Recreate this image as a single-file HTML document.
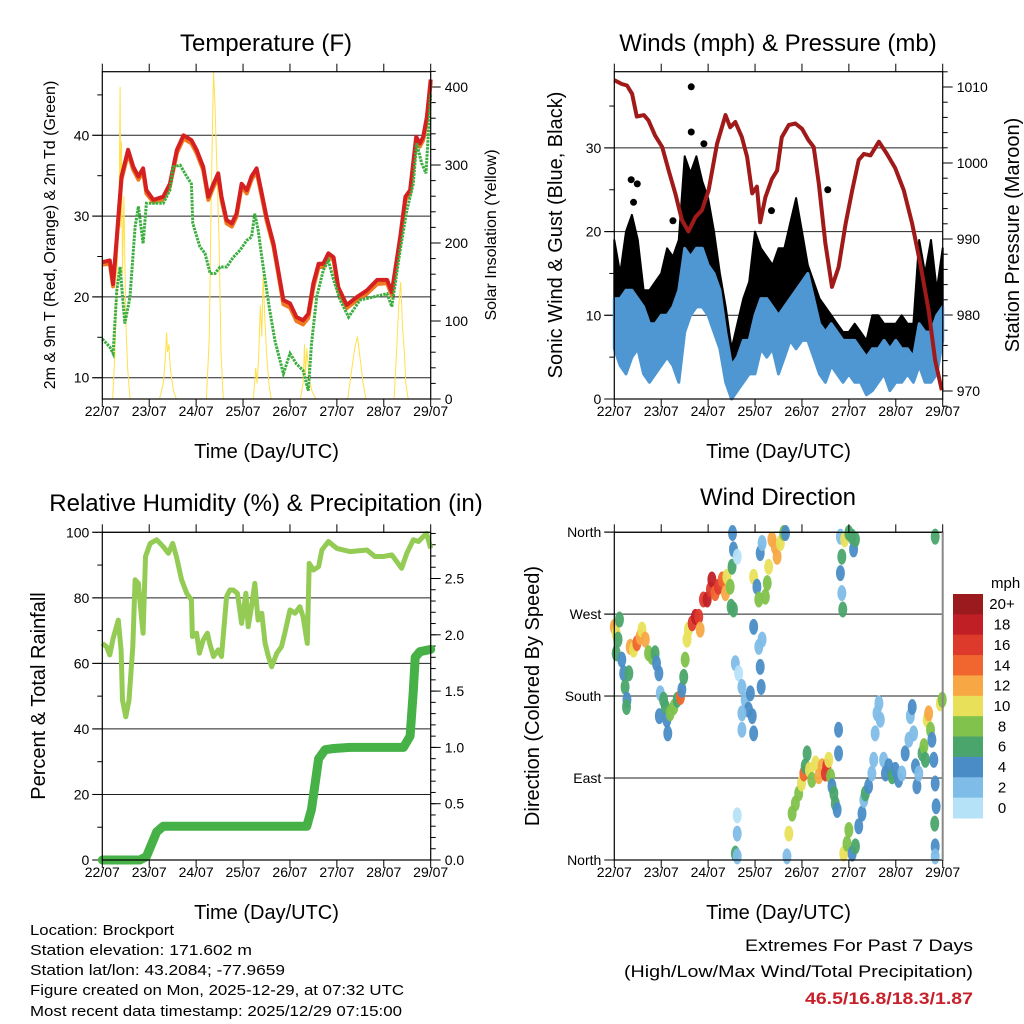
<!DOCTYPE html>
<html><head><meta charset="utf-8">
<style>
html,body{margin:0;padding:0;background:#fff;}
svg{display:block;font-family:"Liberation Sans",sans-serif;}
</style></head>
<body>
<svg id="fig" xmlns="http://www.w3.org/2000/svg" width="1024" height="1024" viewBox="0 0 1024 1024"></svg>
<script>
// ---------- Temperature panel data ----------
const tDays = [0,0.16,0.23,0.31,0.41,0.55,0.66,0.77,0.87,0.94,1.09,1.30,1.44,1.59,1.73,1.90,2.01,2.15,2.26,2.37,2.47,2.54,2.65,2.76,2.86,2.97,3.08,3.18,3.29,3.40,3.50,3.65,3.75,3.86,4.00,4.14,4.28,4.39,4.50,4.61,4.71,4.82,4.93,5.03,5.21,5.43,5.64,5.86,6.07,6.17,6.35,6.46,6.56,6.69,6.77,6.84,6.92,7.0];
const tempRed = [24.3,24.5,21.6,27.4,34.9,38.2,36.1,34.9,35.9,33.2,32,32.4,34,38.2,40,39.4,38.2,36.1,32.4,34,35.3,32.4,29.5,29.1,30.3,34,33.2,34.9,35.9,32.8,29.9,26.6,23.3,19.6,19.2,17.5,17.1,17.9,21.7,24.1,24.1,25.4,24.9,21.2,19,20,20.8,22.1,22.1,20.6,27.4,32.4,33.2,39.8,39,39.8,42.3,46.9];
const tempOrange = [24.0,24.1,21.3,27.0,34.5,37.8,35.7,34.5,35.5,32.8,31.7,32.1,33.7,37.8,39.6,39.0,37.8,35.7,32.0,33.6,34.9,32.0,29.1,28.7,29.9,33.6,32.8,34.5,35.5,32.4,29.5,26.2,22.9,19.1,18.7,17.0,16.6,17.4,21.2,23.7,23.7,25.0,24.5,20.8,18.6,19.6,20.4,21.6,21.7,20.2,27.0,32.0,32.8,39.4,38.6,39.4,41.9,46.5];
const tdDays = [0,0.16,0.23,0.31,0.38,0.48,0.59,0.70,0.77,0.87,0.94,1.09,1.30,1.44,1.51,1.66,1.80,1.90,1.93,2.08,2.19,2.30,2.40,2.51,2.65,2.79,2.94,3.08,3.18,3.25,3.32,3.43,3.57,3.68,3.86,4.00,4.14,4.28,4.39,4.46,4.57,4.71,4.82,4.93,5.07,5.25,5.49,5.78,6.07,6.17,6.35,6.49,6.63,6.70,6.81,6.90,7.0];
const tempDew = [14.8,13.8,13,20.8,23.7,16.7,20,28.7,31.2,26.6,31.6,31.6,31.6,33.2,36.1,36.3,34.9,34,29.1,26.2,25.4,22.9,22.9,23.7,23.7,24.9,25.8,27,27.4,30.3,28.3,23.7,18.3,14.6,10.5,13,11.7,10.9,8.4,14.2,20,23.3,24.5,22.1,19.6,17.5,19.6,20,20.4,18.8,25.8,30.7,34,39,36.5,35.3,45.2];
const solarDays = [0,0.22,0.27,0.31,0.36,0.38,0.395,0.41,0.43,0.46,0.5,0.54,0.59,1.22,1.3,1.34,1.37,1.39,1.42,1.45,1.48,1.52,1.58,2.22,2.28,2.32,2.37,2.40,2.44,2.49,2.53,2.58,3.22,3.27,3.30,3.33,3.37,3.40,3.43,3.46,3.50,3.55,3.6,4.22,4.28,4.31,4.33,4.36,4.39,4.43,4.47,4.55,5.23,5.3,5.38,5.44,5.50,5.56,5.62,6.22,6.27,6.32,6.36,6.40,6.44,6.47,6.52,7.0];
const solarVals = [0,0,60,150,260,400,220,330,160,260,100,40,0,0,20,50,85,60,70,40,25,10,0,0,80,250,420,380,300,200,60,0,0,40,20,50,120,80,160,110,60,20,0,0,20,70,30,65,40,20,10,0,0,30,65,80,50,20,0,0,60,120,150,90,60,20,0,0];
const tempTicks = [10,20,30,40];
const solarTicks = [0,100,200,300,400];
const dayLabels = ["22/07","23/07","24/07","25/07","26/07","27/07","28/07","29/07"];
// ---------- Wind panel data ----------
const windDays = [0,0.125,0.25,0.375,0.5,0.625,0.75,0.875,1,1.125,1.25,1.375,1.5,1.625,1.75,1.875,2,2.125,2.25,2.375,2.5,2.625,2.75,2.875,3,3.125,3.25,3.375,3.5,3.625,3.75,3.875,4,4.125,4.25,4.375,4.5,4.625,4.75,4.875,5,5.125,5.25,5.375,5.5,5.625,5.75,5.875,6,6.125,6.25,6.375,6.5,6.625,6.75,6.875,7];
const windLow = [6,4,3,5,6,3,2,3,4,5,4,2,8,10,11,11,10,8,6,2,0,1,2,3,3,6,5,6,3,5,7,6,7,7,5,3,2,4,3,2,3,2,2,0.5,1,2,3,1,2,2,3,2,4,2,2,3,7];
const windHigh = [12,12,13,13,12,11,9,9,10,10,11,13,18,17,18,18,16,15,13,8,4,5,7,7,10,12,12,11,10,11,12,13,14,15,12,9,8,9,8,7,7,7,6,5,6,6,7,6,7,6,6,5,9,8,8,10,11];
const gustHigh = [19,15,20,22,19,13,13,14,15,18,17,19,29,27,29,26,24,20,15,11,6,9,12,14,20,18,17,16,18,18,21,24,20,16,14,12,11,10,9,8,8,9,8,7,10,10,9,9,9,10,9,9,19,15,19,13,18];
const gustOutDays = [1.64,1.64,0.36,0.49,0.41,1.91,3.35,4.55,1.25];
const gustOutVals = [37.3,31.9,26.2,25.7,23.5,30.5,22.5,25,21.3];
const presDays = [0,0.16,0.27,0.38,0.48,0.63,0.73,0.87,1.02,1.16,1.30,1.44,1.58,1.73,1.87,2.01,2.19,2.37,2.47,2.58,2.72,2.83,2.94,3.04,3.11,3.22,3.36,3.47,3.57,3.72,3.86,4.00,4.14,4.25,4.36,4.50,4.64,4.78,4.93,5.07,5.21,5.32,5.46,5.64,5.81,5.99,6.17,6.35,6.52,6.70,6.84,6.98];
const presVals = [1010.9,1010.4,1010.2,1009.1,1006.1,1006.3,1005.6,1003.6,1002.1,999,996,992.5,991,992.9,993.8,996.4,1002.5,1006.3,1004.7,1005.4,1003.4,1000.8,996,996.9,992.2,995.5,997.9,999,1003.4,1005,1005.2,1004.5,1003,1002.1,997.3,989.4,983.7,986.3,992,996.4,1000.4,1001.2,1001,1002.8,1001.2,999.3,996.4,992,986.8,980.6,974,970.1];
const windTicks = [0,10,20,30];
const presTicks = [970,980,990,1000,1010];
// ---------- RH / precip data ----------
const rhDays = [0,0.09,0.16,0.23,0.34,0.40,0.43,0.50,0.57,0.65,0.70,0.77,0.82,0.87,0.92,1.02,1.16,1.30,1.41,1.50,1.58,1.69,1.80,1.90,1.92,2.01,2.07,2.15,2.24,2.29,2.37,2.47,2.54,2.65,2.72,2.79,2.88,2.97,3.06,3.11,3.18,3.25,3.32,3.40,3.47,3.54,3.61,3.72,3.82,3.89,4.00,4.11,4.21,4.28,4.37,4.41,4.50,4.61,4.68,4.82,5.00,5.28,5.64,5.81,5.99,6.17,6.28,6.38,6.49,6.63,6.74,6.84,6.91,7.0];
const rhVals = [66.1,65.1,62.6,67.6,73.2,64,48.8,43.7,48.8,65.1,85.5,84.4,76.3,69.2,92.6,96.6,97.7,95.6,93.6,96.6,92.6,85.5,81.4,79.3,68.2,69.2,63.1,67.1,69.2,66.1,62.1,64.1,62.1,80.4,82.4,82.4,81.4,72.2,81.4,71.2,77.3,84.4,73.2,75.3,66.1,62.1,59,63.1,65.1,69.2,76.3,75.3,77.3,74.2,66.1,90.5,88.5,89.5,94.6,97.2,95.1,94.1,94.6,92.6,92.6,93.1,91,89,93.6,97.7,97.2,98.7,99.7,95.1];
const rainDays = [0,0.80,0.94,1.16,1.30,4.36,4.46,4.61,4.75,4.93,5.28,6.42,6.56,6.63,6.67,6.77,7.0];
const rainVals = [0,0,0.03,0.25,0.3,0.3,0.45,0.9,0.98,0.99,1.0,1.0,1.1,1.5,1.8,1.85,1.87];
const rhTicks = [0,20,40,60,80,100];
const rainTicks = ["0.0","0.5","1.0","1.5","2.0","2.5"];
// ---------- Wind direction data ----------
const dirDays = [0.00,0.04,0.08,0.04,0.11,0.16,0.20,0.23,0.27,0.26,0.31,0.34,0.41,0.48,0.55,0.59,0.66,0.73,0.80,0.87,0.90,0.95,0.98,0.96,1.05,1.09,1.12,1.14,1.19,1.27,1.34,1.41,1.44,1.48,1.51,1.55,1.58,1.66,1.73,1.80,1.83,1.90,1.98,2.05,2.08,2.15,2.22,2.30,2.37,2.40,2.47,2.51,2.49,2.54,2.52,2.54,2.62,2.58,2.65,2.72,2.79,2.86,2.90,2.72,2.94,2.72,2.97,2.62,2.62,2.58,2.62,2.97,3.04,3.08,3.11,3.15,3.26,3.22,3.29,3.36,3.43,3.47,3.54,3.61,3.65,2.97,3.08,3.11,3.15,3.13,3.68,3.72,3.79,3.86,3.93,3.99,4.04,4.07,4.11,4.16,4.21,4.29,4.36,4.43,4.50,4.53,4.57,4.61,4.64,4.68,4.71,4.75,4.78,4.78,4.82,4.85,4.82,4.85,4.87,4.91,5.00,5.07,5.10,5.14,4.89,4.96,5.00,5.07,5.14,5.21,5.28,5.32,5.35,5.42,5.49,5.53,5.56,5.60,5.64,5.67,5.74,5.78,5.85,5.92,5.99,6.06,6.13,6.20,6.28,6.31,6.35,6.38,6.42,6.45,6.49,6.56,6.60,6.63,6.67,6.70,6.74,6.77,6.81,6.84,6.86,6.83,6.84,6.84,6.95,6.99,6.84];
const dirVals = [256,249,242,227,264,220,205,190,176,168,205,234,231,238,245,253,242,227,223,227,216,205,183,158,176,168,154,139,161,168,176,179,187,201,220,242,253,260,267,267,253,286,286,297,308,293,300,308,293,311,300,322,278,275,359,341,333,216,205,190,176,165,183,161,158,143,139,49,29,7,4,311,300,286,337,348,304,289,322,352,344,333,348,359,359,256,234,212,242,190,4,29,51,62,73,84,95,103,117,99,88,106,92,103,95,103,110,92,81,73,62,55,117,143,355,333,315,293,275,352,359,355,341,352,7,18,33,7,15,37,51,66,73,81,95,110,139,161,172,154,110,95,103,92,99,88,95,117,132,158,168,139,103,81,95,117,125,110,154,161,143,132,110,84,59,40,15,4,172,176,355];
const dirSpeed = [12,11,7,6,6,5,4,6,5,6,6,12,11,14,12,11,12,8,8,6,5,4,3,4,6,6,4,4,8,8,7,14,4,6,8,10,10,16,18,16,13,16,18,16,18,15,16,14,12,10,8,7,6,6,5,4,1,2,1,2,3,4,5,2,4,3,4,1,3,6,3,10,4,8,4,3,8,8,11,12,13,12,11,8,5,4,3,4,3,4,2,11,8,8,8,11,14,6,6,10,8,11,12,13,16,17,10,8,5,6,6,4,4,4,3,6,4,3,6,10,7,6,4,6,11,8,8,4,6,4,4,3,6,4,2,3,3,2,3,2,3,5,4,6,4,4,3,4,3,2,4,3,5,4,3,6,8,6,10,12,8,5,4,4,4,6,4,3,10,8,6];
const dirTickLabels = ["North","East","South","West","North"];
const speedBinLabels = ["0","2","4","6","8","10","12","14","16","18","20+"];
const speedColors = ["#b6e2f7","#7fbde8","#4a8dc6","#4aa56c","#80c24b","#e9e05a","#f7a845","#f0662e","#de3a2c","#c11f26","#9b1a1e"];

// ---------- helpers ----------
const NS = "http://www.w3.org/2000/svg";
const svg = document.getElementById("fig");
function mk(tag, attrs, parent) {
  const el = document.createElementNS(NS, tag);
  for (const k in attrs) el.setAttribute(k, attrs[k]);
  (parent || svg).appendChild(el);
  return el;
}
function txt(s, attrs, parent) {
  const el = mk("text", attrs, parent);
  el.textContent = s;
  return el;
}
function panel(x0, x1, y0, y1) {
  return {x0:x0, x1:x1, y0:y0, y1:y1, xd: d => x0 + d * (x1 - x0) / 7};
}
const P1 = panel(102.3, 430.7, 71.7, 399);
const P2 = panel(614.3, 942.7, 71.7, 399);
const P3 = panel(102.3, 430.7, 532.3, 860);
const P4 = panel(614.3, 942.7, 532.3, 860);
const yT = v => 377.7 - (v - 10) * 8.08;
const yS = v => 399 - v * 0.78;
const yW = v => 399 - v * 8.37;
const yP = v => 391 - (v - 970) * 7.6;
const yRH = v => 860 - v * 3.277;
const yPr = v => 860 - v * 112.6;
const yD = v => 860 - v * 0.9108;

function linePath(days, vals, xf, yf) {
  return days.map((d, i) => (i ? "L" : "M") + xf(days[i]).toFixed(1) + " " + yf(vals[i]).toFixed(1)).join(" ");
}
function drawBox(P, g) {
  const r = mk("rect", {x:P.x0, y:P.y0, width:P.x1-P.x0, height:P.y1-P.y0, fill:"none", stroke:"#000", "stroke-width":1.2}, g);
  
  
}
function drawXAxis(P, g) {
  for (let i = 0; i < 8; i++) {
    const x = P.xd(i);
    const t1 = mk("line", {x1:x, x2:x, y1:P.y0, y2:P.y0-8, stroke:"#000", "stroke-width":1}, g);
    
    
    const t2 = mk("line", {x1:x, x2:x, y1:P.y1, y2:P.y1+8, stroke:"#000", "stroke-width":1}, g);
    
    
    const lb = txt(dayLabels[i], {x:x, y:P.y1+17, "font-size":14, "text-anchor":"middle"}, g);
    
    
  }
  const tt = txt("Time (Day/UTC)", {x:(P.x0+P.x1)/2, y:P.y1+59, "font-size":20, "text-anchor":"middle"}, g);
  
  
}
function leftTicks(P, g, vals, labels, yf, minors, grid) {
  vals.forEach((v, i) => {
    const y = yf(v);
    if (grid) {
      const gl = mk("line", {x1:P.x0-10, x2:P.x1, y1:y, y2:y, stroke:"#222", "stroke-width":1}, g);
      
      
    }
    const tk = mk("line", {x1:P.x0-10, x2:P.x0, y1:y, y2:y, stroke:"#000"}, g);
    
    
    const lb = txt(labels[i], {x:P.x0-13, y:y+5, "font-size":14, "text-anchor":"end"}, g);
    
    
  });
  (minors || []).forEach(v => {
    const y = yf(v);
    const m = mk("line", {x1:P.x0-5, x2:P.x0, y1:y, y2:y, stroke:"#000"}, g);
    
    
  });
}
function rightTicks(P, g, vals, labels, yf, minors) {
  vals.forEach((v, i) => {
    const y = yf(v);
    const tk = mk("line", {x1:P.x1, x2:P.x1+10, y1:y, y2:y, stroke:"#000"}, g);
    
    
    const lb = txt(labels[i], {x:P.x1+14, y:y+5, "font-size":14}, g);
    
    
  });
  (minors || []).forEach(v => {
    const y = yf(v);
    const m = mk("line", {x1:P.x1, x2:P.x1+5, y1:y, y2:y, stroke:"#000"}, g);
    
    
  });
}
function vTitle(s, x, y, size, g) {
  const t = txt(s, {x:x, y:y, "font-size":size, "text-anchor":"middle", transform:"rotate(-90 "+x+" "+y+")"}, g);
  return t;
}
function range(a, b, s) { const r = []; for (let v = a; v <= b + 1e-9; v += s) r.push(+v.toFixed(3)); return r; }

// ================= Panel 1: Temperature =================
const g1 = mk("g", {});


const ti1 = txt("Temperature (F)", {x:266, y:51, "font-size":24, "text-anchor":"middle"}, g1);


leftTicks(P1, g1, tempTicks, tempTicks.map(String), yT, [15,25,35,45], true);
rightTicks(P1, g1, solarTicks, solarTicks.map(String), yS, range(20,420,20));
const solar = mk("path", {d:linePath(solarDays, solarVals, P1.xd, yS), fill:"none", stroke:"#ffe04a", "stroke-width":1}, g1);


const tOr = mk("path", {d:linePath(tDays, tempOrange, P1.xd, yT), fill:"none", stroke:"#f07a20", "stroke-width":4, "stroke-linejoin":"round"}, g1);


const tRd = mk("path", {d:linePath(tDays, tempRed, P1.xd, yT), fill:"none", stroke:"#d42020", "stroke-width":4, "stroke-linejoin":"round"}, g1);


const tDw = mk("path", {d:linePath(tdDays, tempDew, P1.xd, yT), fill:"none", stroke:"#3cae40", "stroke-width":3, "stroke-dasharray":"2.5 1"}, g1);


drawBox(P1, g1);
drawXAxis(P1, g1);
const yl1 = vTitle("2m & 9m T (Red, Orange) & 2m Td (Green)", 55, 235, 16, g1);


const yr1 = vTitle("Solar Insolation (Yellow)", 496, 235, 16, g1);



// ================= Panel 2: Winds =================
const g2 = mk("g", {});


const ti2 = txt("Winds (mph) & Pressure (mb)", {x:778, y:51, "font-size":24, "text-anchor":"middle"}, g2);


leftTicks(P2, g2, windTicks, windTicks.map(String), yW, [5,15,25,35], true);
rightTicks(P2, g2, presTicks, presTicks.map(String), yP, range(968,1012,2));
const gustBand = mk("path", {d:linePath(windDays, gustHigh, P2.xd, yW) + " " + linePath(windDays.slice().reverse(), windHigh.slice().reverse(), P2.xd, yW).replace("M","L") + " Z", fill:"#000", stroke:"#000", "stroke-width":2, "stroke-linejoin":"round"}, g2);


gustOutDays.forEach((d, i) => {
  const c = mk("circle", {cx:P2.xd(d), cy:yW(gustOutVals[i]), r:3.5, fill:"#000"}, g2);
  
  
});
const windBand = mk("path", {d:linePath(windDays, windHigh, P2.xd, yW) + " " + linePath(windDays.slice().reverse(), windLow.slice().reverse(), P2.xd, yW).replace("M","L") + " Z", fill:"#4f97d2", stroke:"#4f97d2", "stroke-width":3, "stroke-linejoin":"round"}, g2);


const pres = mk("path", {d:linePath(presDays, presVals, P2.xd, yP), fill:"none", stroke:"#a01a1a", "stroke-width":4, "stroke-linejoin":"round"}, g2);


drawBox(P2, g2);
drawXAxis(P2, g2);
const yl2 = vTitle("Sonic Wind & Gust (Blue, Black)", 562, 235, 20, g2);


const yr2 = vTitle("Station Pressure (Maroon)", 1019, 235, 20, g2);



// ================= Panel 3: RH & precip =================
const g3 = mk("g", {});


const ti3 = txt("Relative Humidity (%) & Precipitation (in)", {x:266, y:511, "font-size":24, "text-anchor":"middle"}, g3);


leftTicks(P3, g3, rhTicks, rhTicks.map(String), yRH, [10,30,50,70,90], true);
rightTicks(P3, g3, rainTicks.map(Number), rainTicks, yPr, range(0.1,2.9,0.1));
const rain = mk("path", {d:linePath(rainDays, rainVals, P3.xd, yPr), fill:"none", stroke:"#45b146", "stroke-width":9, "stroke-linejoin":"round", "stroke-linecap":"round"}, g3);


const rh = mk("path", {d:linePath(rhDays, rhVals, P3.xd, yRH), fill:"none", stroke:"#93cb54", "stroke-width":5, "stroke-linejoin":"round"}, g3);


drawBox(P3, g3);
drawXAxis(P3, g3);
const yl3 = vTitle("Percent & Total Rainfall", 45, 696, 20, g3);



// ================= Panel 4: Wind direction =================
const g4 = mk("g", {});


const ti4 = txt("Wind Direction", {x:778, y:505, "font-size":24, "text-anchor":"middle"}, g4);


leftTicks(P4, g4, [0,90,180,270,360], dirTickLabels, yD, [], true);
function spdColor(s) { return speedColors[Math.min(10, Math.floor(s / 2))]; }
dirDays.forEach((d, i) => {
  const c = mk("ellipse", {cx:P4.xd(d), cy:yD(dirVals[i]), rx:4.5, ry:8, fill:spdColor(dirSpeed[i]), "fill-opacity":0.95}, g4);
  
  
});
drawBox(P4, g4);
const rEdge = mk("line", {x1:P4.x1, x2:P4.x1, y1:P4.y0, y2:P4.y1, stroke:"#888", "stroke-width":2}, g4);


drawXAxis(P4, g4);
const yl4 = vTitle("Direction (Colored By Speed)", 539, 696, 20, g4);


// colorbar
const cb = mk("g", {}, g4);


const cbTop = 594, cbH = 224 / 11;
for (let k = 0; k < 11; k++) {
  const idx = 10 - k;
  const r = mk("rect", {x:953, y:cbTop + k*cbH, width:30, height:cbH+0.5, fill:speedColors[idx]}, cb);
  
  
  const lb = txt(speedBinLabels[idx], {x:1002, y:cbTop + k*cbH + cbH/2 + 5, "font-size":15, "text-anchor":"middle"}, cb);
  
  
}
const mph = txt("mph", {x:991, y:588, "font-size":15}, cb);



// ================= Footer text =================
const info = [["Location: Brockport",935,144],["Station elevation: 171.602 m",955,222],["Station lat/lon: 43.2084; -77.9659",975,255],["Figure created on Mon, 2025-12-29, at 07:32 UTC",995,374],["Most recent data timestamp: 2025/12/29 07:15:00",1016,372]];
info.forEach(it => {
  const t = txt(it[0], {x:30, y:it[1], "font-size":15, textLength:it[2], lengthAdjust:"spacingAndGlyphs"});
  
  
});
const ex1 = txt("Extremes For Past 7 Days", {x:973, y:951, "font-size":17, "text-anchor":"end", textLength:228, lengthAdjust:"spacingAndGlyphs"});


const ex2 = txt("(High/Low/Max Wind/Total Precipitation)", {x:973, y:977, "font-size":17, "text-anchor":"end", textLength:349, lengthAdjust:"spacingAndGlyphs"});


const ex3 = txt("46.5/16.8/18.3/1.87", {x:973, y:1004, "font-size":17, "font-weight":"bold", fill:"#c8202a", "text-anchor":"end", textLength:168, lengthAdjust:"spacingAndGlyphs"});


</script>
</body></html>
